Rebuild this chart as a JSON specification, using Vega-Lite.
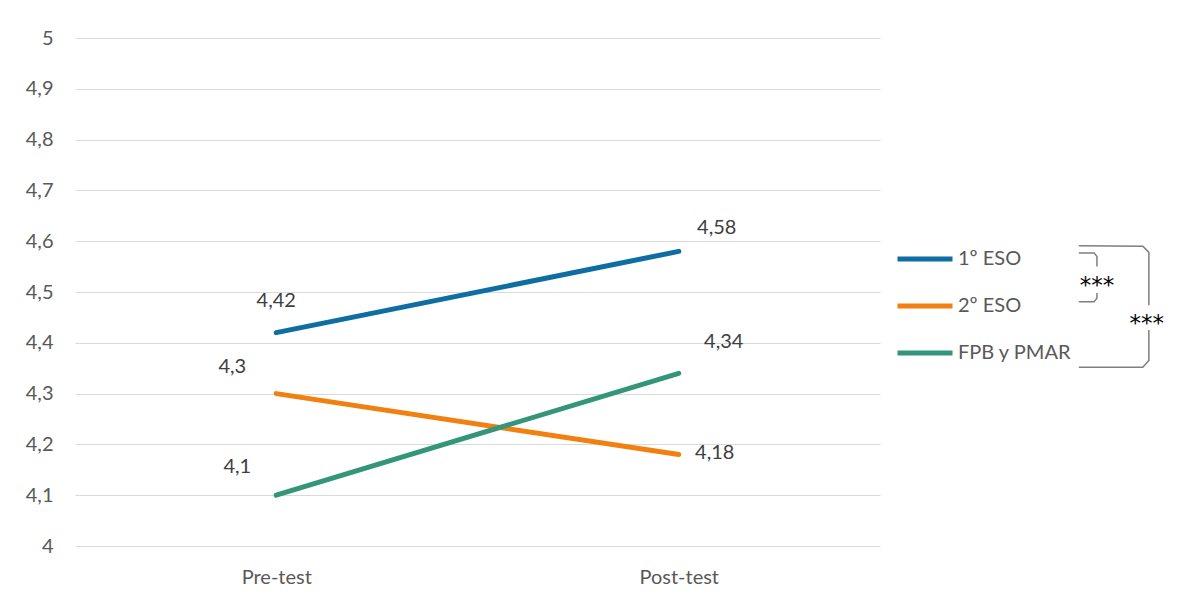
{
  "$schema": "https://vega.github.io/schema/vega-lite/v6.json",
  "width": 805,
  "height": 508,
  "autosize": {"type": "none"},
  "padding": {"left": 75, "top": 38, "right": 304, "bottom": 62},
  "background": "white",
  "config": {
    "view": {"stroke": null},
    "font": "Lato",
    "text": {"font": "Lato"},
    "locale": {"number": {"decimal": ",", "thousands": ".", "grouping": [3], "currency": ["", " €"]}}
  },
  "datasets": {
    "scores": [
      {"series": "1º ESO", "test": "Pre-test", "value": 4.42},
      {"series": "1º ESO", "test": "Post-test", "value": 4.58},
      {"series": "2º ESO", "test": "Pre-test", "value": 4.3},
      {"series": "2º ESO", "test": "Post-test", "value": 4.18},
      {"series": "FPB y PMAR", "test": "Pre-test", "value": 4.1},
      {"series": "FPB y PMAR", "test": "Post-test", "value": 4.34}
    ],
    "brackets": [
      {"id": "inner-a", "seq": 1, "bx": 2.494, "by": 4.577},
      {"id": "inner-a", "seq": 2, "bx": 2.532, "by": 4.577},
      {"id": "inner-a", "seq": 3, "bx": 2.539, "by": 4.570},
      {"id": "inner-a", "seq": 4, "bx": 2.539, "by": 4.550},
      {"id": "inner-b", "seq": 1, "bx": 2.539, "by": 4.498},
      {"id": "inner-b", "seq": 2, "bx": 2.539, "by": 4.488},
      {"id": "inner-b", "seq": 3, "bx": 2.532, "by": 4.481},
      {"id": "inner-b", "seq": 4, "bx": 2.494, "by": 4.481},
      {"id": "outer-a", "seq": 1, "bx": 2.494, "by": 4.591},
      {"id": "outer-a", "seq": 2, "bx": 2.653, "by": 4.590},
      {"id": "outer-a", "seq": 3, "bx": 2.668, "by": 4.578},
      {"id": "outer-a", "seq": 4, "bx": 2.668, "by": 4.474},
      {"id": "outer-b", "seq": 1, "bx": 2.668, "by": 4.425},
      {"id": "outer-b", "seq": 2, "bx": 2.668, "by": 4.365},
      {"id": "outer-b", "seq": 3, "bx": 2.653, "by": 4.352},
      {"id": "outer-b", "seq": 4, "bx": 2.494, "by": 4.352}
    ],
    "stars": [
      {"label": "***", "sx": 2.539, "sy": 4.499},
      {"label": "***", "sx": 2.663, "sy": 4.424}
    ]
  },
  "resolve": {"scale": {"x": "independent"}},
  "layer": [
    {
      "data": {"name": "scores"},
      "layer": [
        {
          "mark": {"type": "line", "strokeWidth": 5, "strokeCap": "round"},
          "encoding": {
            "x": {
              "field": "test", "type": "nominal",
              "sort": ["Pre-test", "Post-test"],
              "scale": {"type": "point", "padding": 0.5},
              "axis": {"title": null, "domain": false, "ticks": false, "labelAngle": 0, "labelFontSize": 20, "labelColor": "#595959", "labelPadding": 21, "labelFont": "Lato"}
            },
            "y": {
              "field": "value", "type": "quantitative",
              "scale": {"domain": [4, 5], "nice": false, "zero": false},
              "axis": {
                "title": null, "domain": false, "ticks": false,
                "values": [4, 4.1, 4.2, 4.3, 4.4, 4.5, 4.6, 4.7, 4.8, 4.9, 5],
                "format": ".1~f",
                "labelFontSize": 20, "labelColor": "#595959", "labelPadding": 22, "labelFont": "Lato",
                "gridColor": "#d9d9d9", "gridWidth": 1
              }
            },
            "color": {
              "field": "series", "type": "nominal",
              "scale": {"domain": ["1º ESO", "2º ESO", "FPB y PMAR"], "range": ["#0E6DA1", "#F28010", "#339579"]},
              "legend": {
                "title": null, "orient": "none", "legendX": 820, "legendY": 210,
                "symbolType": "stroke", "symbolStrokeWidth": 5, "symbolSize": 3025,
                "clipHeight": 22, "rowPadding": 25, "padding": 0, "labelOffset": 3,
                "labelFontSize": 20, "labelColor": "#595959", "labelFont": "Lato"
              }
            }
          }
        },
        {"transform": [{"filter": "datum.series == '1º ESO' && datum.test == 'Pre-test'"}],
         "mark": {"type": "text", "fontSize": 20, "color": "#404040", "dx": 0, "dy": -32},
         "encoding": {"x": {"field": "test", "type": "nominal", "sort": ["Pre-test", "Post-test"]}, "y": {"field": "value", "type": "quantitative"}, "text": {"field": "value", "type": "quantitative", "format": ".2~f"}}},
        {"transform": [{"filter": "datum.series == '1º ESO' && datum.test == 'Post-test'"}],
         "mark": {"type": "text", "fontSize": 20, "color": "#404040", "dx": 38, "dy": -23},
         "encoding": {"x": {"field": "test", "type": "nominal", "sort": ["Pre-test", "Post-test"]}, "y": {"field": "value", "type": "quantitative"}, "text": {"field": "value", "type": "quantitative", "format": ".2~f"}}},
        {"transform": [{"filter": "datum.series == '2º ESO' && datum.test == 'Pre-test'"}],
         "mark": {"type": "text", "fontSize": 20, "color": "#404040", "dx": -44, "dy": -27},
         "encoding": {"x": {"field": "test", "type": "nominal", "sort": ["Pre-test", "Post-test"]}, "y": {"field": "value", "type": "quantitative"}, "text": {"field": "value", "type": "quantitative", "format": ".2~f"}}},
        {"transform": [{"filter": "datum.series == '2º ESO' && datum.test == 'Post-test'"}],
         "mark": {"type": "text", "fontSize": 20, "color": "#404040", "dx": 36, "dy": -2},
         "encoding": {"x": {"field": "test", "type": "nominal", "sort": ["Pre-test", "Post-test"]}, "y": {"field": "value", "type": "quantitative"}, "text": {"field": "value", "type": "quantitative", "format": ".2~f"}}},
        {"transform": [{"filter": "datum.series == 'FPB y PMAR' && datum.test == 'Pre-test'"}],
         "mark": {"type": "text", "fontSize": 20, "color": "#404040", "dx": -39, "dy": -28},
         "encoding": {"x": {"field": "test", "type": "nominal", "sort": ["Pre-test", "Post-test"]}, "y": {"field": "value", "type": "quantitative"}, "text": {"field": "value", "type": "quantitative", "format": ".2~f"}}},
        {"transform": [{"filter": "datum.series == 'FPB y PMAR' && datum.test == 'Post-test'"}],
         "mark": {"type": "text", "fontSize": 20, "color": "#404040", "dx": 45, "dy": -31},
         "encoding": {"x": {"field": "test", "type": "nominal", "sort": ["Pre-test", "Post-test"]}, "y": {"field": "value", "type": "quantitative"}, "text": {"field": "value", "type": "quantitative", "format": ".2~f"}}}
      ]
    },
    {
      "data": {"name": "brackets"},
      "mark": {"type": "line", "stroke": "#7f7f7f", "strokeWidth": 1.5, "clip": false},
      "encoding": {
        "x": {"field": "bx", "type": "quantitative", "scale": {"domain": [0, 2], "nice": false, "zero": true}, "axis": null},
        "y": {"field": "by", "type": "quantitative"},
        "detail": {"field": "id"},
        "order": {"field": "seq"}
      }
    },
    {
      "data": {"name": "stars"},
      "mark": {"type": "text", "font": "DejaVu Sans", "fontSize": 23, "color": "#000000", "clip": false, "baseline": "alphabetic"},
      "encoding": {
        "x": {"field": "sx", "type": "quantitative", "scale": {"domain": [0, 2], "nice": false}, "axis": null},
        "y": {"field": "sy", "type": "quantitative"},
        "text": {"field": "label"}
      }
    }
  ]
}
